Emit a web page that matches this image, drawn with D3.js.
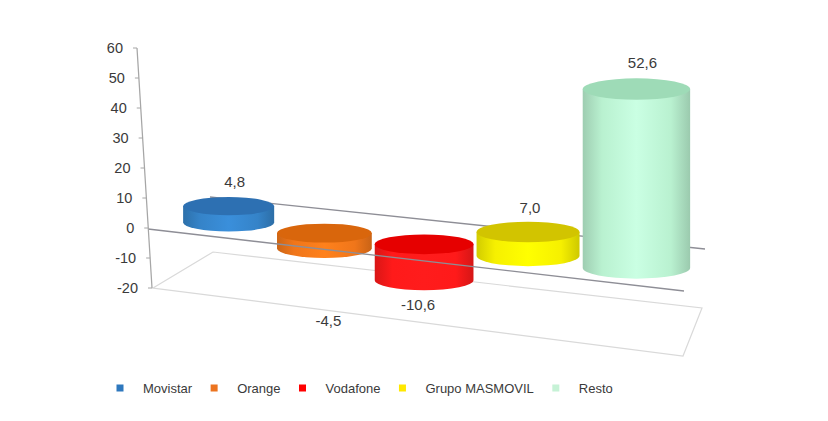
<!DOCTYPE html>
<html>
<head>
<meta charset="utf-8">
<script src="https://cdn.jsdelivr.net/npm/d3@7"></script>
<style>
  body { margin: 0; background: #fff; }
  text { font-family: "Liberation Sans", Arial, sans-serif; fill: #3a3a3a; }
</style>
</head>
<body>
<div id="chart"></div>
<script>
// data
const categories = ["Movistar", "Orange", "Vodafone", "Grupo MASMOVIL", "Resto"];
const values = [4.8, -4.5, -10.6, 7.0, 52.6];
const yTicks = [-20, -10, 0, 10, 20, 30, 40, 50, 60];

// colours (side, top) per series
const sideColors = ["#3583c8", "#f0761a", "#ff1a1a", "#f6f000", "#b9f1d0"];
const topColors  = ["#2d70b2", "#d9660c", "#e60000", "#d2c400", "#9edbb7"];
const legendColors = ["#2e78be", "#ec7420", "#ff0000", "#ffe800", "#c6f2d6"];

const W = 828, H = 421;
const svg = d3.select("#chart").append("svg")
    .attr("width", W).attr("height", H);

const fmt = d3.formatLocale({decimal: ",", thousands: ".", grouping: [3], currency: ["", ""], minus: "-"}).format(".1f");

// pseudo 3d: corners of the zero plane + how far one value unit moves them
const corners = {
  FL: {x: 148, y: 229, kx: -0.25, ky: 2.95},
  FR: {x: 684, y: 291, kx: 0.05, ky: 3.25},
  BL: {x: 210, y: 197, kx: -0.15, ky: 2.75},
  BR: {x: 705, y: 249, kx: 0.15, ky: 2.95}
};
const persp = 0.9;  // right side is nearer the viewer
function warp(u) { return u * persp / ((1 - u) + u * persp); }
function lerp(a, b, t) {
  return {x: a.x + (b.x - a.x) * t, y: a.y + (b.y - a.y) * t,
          kx: a.kx + (b.kx - a.kx) * t, ky: a.ky + (b.ky - a.ky) * t};
}
function proj(u, v, w) {
  var g = warp(u);
  var p = lerp(lerp(corners.FL, corners.FR, g), lerp(corners.BL, corners.BR, g), w);
  return [p.x + v * p.kx, p.y - v * p.ky];
}

// scales
const x = d3.scaleBand()
    .domain(categories)
    .range([0.02, 1.0])
    .paddingInner(0.03)
    .paddingOuter(0.015);
const hCyl = d3.scaleLinear().domain([0, 60]).range([0, 204]);
const axisY = d3.scaleLinear().domain([-20, 60]).range([288, 48]);
const axisX = d3.scaleLinear().domain([-20, 60]).range([152, 137]);
const depth = 0.4;

// floor at -20
const floorPts = [[0, 0], [0, 1], [1, 1], [1, 0]].map(function(c) { return proj(c[0], -20, c[1]); });
svg.append("polygon")
    .attr("points", floorPts.map(function(p) { return p.join(","); }).join(" "))
    .attr("fill", "none")
    .attr("stroke", "#d9d9d9")
    .attr("stroke-width", 1.2);

// back line at zero
var b0 = proj(0, 0, 1), b1 = proj(1, 0, 1);
svg.append("line")
    .attr("x1", b0[0]).attr("y1", b0[1]).attr("x2", b1[0]).attr("y2", b1[1])
    .attr("stroke", "#8e8e96").attr("stroke-width", 1.3);

// gradients for the cylinder sides
const defs = svg.append("defs");
categories.forEach(function(c, i) {
  var base = d3.color(sideColors[i]);
  var gr = defs.append("linearGradient").attr("id", "side" + i);
  gr.append("stop").attr("offset", "0%").attr("stop-color", base.darker(0.45));
  gr.append("stop").attr("offset", "18%").attr("stop-color", base);
  gr.append("stop").attr("offset", "50%").attr("stop-color", base.brighter(0.25));
  gr.append("stop").attr("offset", "82%").attr("stop-color", base);
  gr.append("stop").attr("offset", "100%").attr("stop-color", base.darker(0.5));
});

// cylinders
const cyl = categories.map(function(c, i) {
  var u = x(c) + x.bandwidth() / 2;
  var base = proj(u, 0, depth);
  var rx = (proj(u + x.bandwidth() / 2, 0, depth)[0] - proj(u - x.bandwidth() / 2, 0, depth)[0]) / 2;
  var ry = rx * 0.2;
  var yT = base[1] - hCyl(Math.max(values[i], 0));
  var yB = base[1] - hCyl(Math.min(values[i], 0));
  return {name: c, v: values[i], i: i, cx: base[0], rx: rx, ry: ry, yT: yT, yB: yB};
});

const g = svg.append("g").selectAll("g")
  .data(cyl)
  .enter().append("g");
g.append("path")
    .attr("d", function(d) {
      return "M" + (d.cx - d.rx) + "," + d.yT +
             "L" + (d.cx - d.rx) + "," + d.yB +
             "A" + d.rx + "," + d.ry + " 0 0 0 " + (d.cx + d.rx) + "," + d.yB +
             "L" + (d.cx + d.rx) + "," + d.yT + "Z";
    })
    .attr("fill", function(d) { return "url(#side" + d.i + ")"; });
g.append("ellipse")
    .attr("cx", function(d) { return d.cx; })
    .attr("cy", function(d) { return d.yT; })
    .attr("rx", function(d) { return d.rx; })
    .attr("ry", function(d) { return d.ry; })
    .attr("fill", function(d) { return topColors[d.i]; });

// front line at zero, drawn over the columns
var f0 = proj(0, 0, 0), f1 = proj(1, 0, 0);
svg.append("line")
    .attr("x1", f0[0]).attr("y1", f0[1]).attr("x2", f1[0]).attr("y2", f1[1])
    .attr("stroke", "#8e8e96").attr("stroke-width", 1.3);

// value axis
svg.append("line")
    .attr("x1", axisX(-20)).attr("y1", axisY(-20))
    .attr("x2", axisX(60)).attr("y2", axisY(60))
    .attr("stroke", "#a6a6a6").attr("stroke-width", 1.2);
const ticks = svg.append("g").selectAll("g")
  .data(yTicks)
  .enter().append("g");
ticks.append("line")
    .attr("x1", function(d) { return axisX(d) - 4; })
    .attr("x2", function(d) { return axisX(d); })
    .attr("y1", function(d) { return axisY(d); })
    .attr("y2", function(d) { return axisY(d); })
    .attr("stroke", "#a6a6a6");
ticks.append("text")
    .attr("x", function(d) { return axisX(d) - 14; })
    .attr("y", function(d) { return axisY(d) + 5; })
    .attr("text-anchor", "end")
    .style("font-size", "14.5px")
    .text(function(d) { return d; });

// data labels (some were dragged by hand in the original)
const nudge = {"Orange": [4, 48], "Vodafone": [-6, 0], "Grupo MASMOVIL": [-4, 1]};
svg.append("g").selectAll("text")
  .data(cyl)
  .enter().append("text")
    .attr("x", function(d) { return d.cx + (d.v >= 0 ? 6 : 0) + (nudge[d.name] ? nudge[d.name][0] : 0); })
    .attr("y", function(d) {
      var y = d.v >= 0 ? d.yT - d.ry - 10 : d.yB + d.ry + 20;
      return y + (nudge[d.name] ? nudge[d.name][1] : 0);
    })
    .attr("text-anchor", "middle")
    .style("font-size", "15px")
    .text(function(d) { return fmt(d.v); });

// legend
const legend = svg.append("g");
var lx = 120, ly = 388;
categories.forEach(function(c, i) {
  legend.append("rect")
      .attr("x", lx - 3.5).attr("y", ly - 3.5)
      .attr("width", 7).attr("height", 7)
      .attr("fill", legendColors[i]);
  var t = legend.append("text")
      .attr("x", lx + 23).attr("y", ly + 5)
      .style("font-size", "13px")
      .text(c);
  lx = lx + 23 + t.node().getComputedTextLength() + 22;
});
</script>
</body>
</html>
